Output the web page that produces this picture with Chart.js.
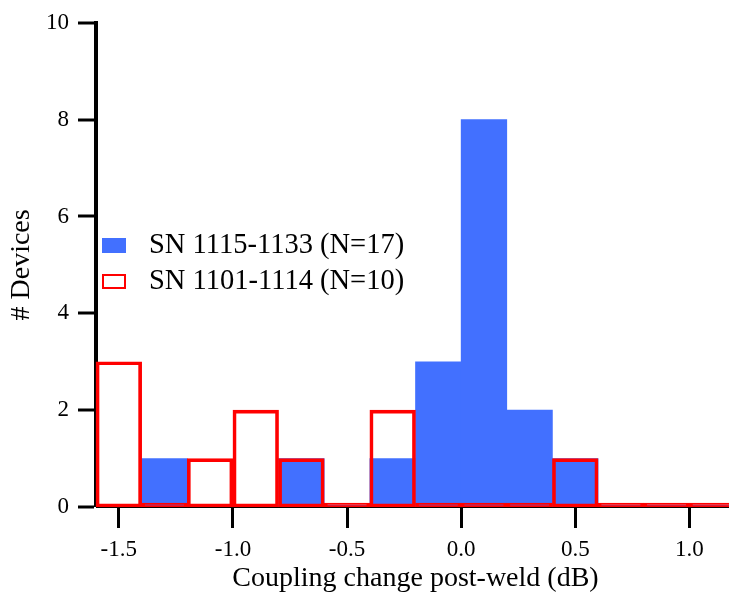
<!DOCTYPE html>
<html><head><meta charset="utf-8">
<script src="https://cdn.jsdelivr.net/npm/chart.js@4/dist/chart.umd.min.js"></script>
<style>html,body{margin:0;padding:0;overflow:hidden;background:#fff}canvas{display:block}</style>
</head><body>
<canvas id="c" width="735" height="596"></canvas>
<script>
const binStarts = [-1.6,-1.4,-1.2,-1.0,-0.8,-0.6,-0.4,-0.2,0.0,0.2,0.4,0.6,0.8,1.0];
const binWidth = 0.2;
const seriesNames = ['SN 1115-1133 (N=17)','SN 1101-1114 (N=10)'];
const countsNew = [0,1,0,0,1,0,1,3,8,2,1,0,0,0];
const countsOld = [3,0,1,2,1,0,2,0,0,0,1,0,0,0];
const xTicks = [-1.5,-1.0,-0.5,0.0,0.5,1.0];
const yTicks = [0,2,4,6,8,10];
const xTitle = 'Coupling change post-weld (dB)';
const yTitle = '# Devices';

const BLUE = '#4270ff';
const RED = '#ff0000';
const FONT = '"Liberation Serif", serif';

const toPoints = arr => arr.map((v,i)=>({x: +(binStarts[i]+binWidth/2).toFixed(2), y: v}));

const legendPlugin = {
  id:'customLegend',
  afterDraw(chart){
    const ctx = chart.ctx;
    ctx.save();
    ctx.font = '28.5px ' + FONT;
    ctx.textBaseline = 'middle';
    ctx.textAlign = 'left';
    ctx.fillStyle = BLUE;
    ctx.fillRect(102, 238, 24, 15);
    ctx.fillStyle = '#000';
    ctx.fillText(seriesNames[0], 149, 246);
    ctx.strokeStyle = RED;
    ctx.lineWidth = 2;
    ctx.strokeRect(103, 275, 22, 13);
    ctx.fillStyle = '#000';
    ctx.fillText(seriesNames[1], 149, 282);
    ctx.restore();
  }
};

new Chart(document.getElementById('c'), {
  type: 'bar',
  data: {
    datasets: [
      { label: seriesNames[1], data: toPoints(countsOld), backgroundColor: 'rgba(0,0,0,0)',
        borderColor: RED, borderWidth: 3, borderSkipped: false, minBarLength: 4, clip: 4 },
      { label: seriesNames[0], data: toPoints(countsNew), backgroundColor: BLUE,
        borderWidth: 0, minBarLength: 2 }
    ]
  },
  options: {
    responsive: false,
    animation: false,
    devicePixelRatio: 1,
    grouped: false,
    barPercentage: 1,
    categoryPercentage: 1,
    layout: { padding: { top: 19, right: 0, left: 0, bottom: 0 } },
    plugins: { legend: { display: false }, tooltip: { enabled: false } },
    scales: {
      x: {
        type: 'linear', min: -1.6, max: 1.2, offset: false,
        afterBuildTicks: s => { s.ticks = xTicks.map(v => ({value: v})); },
        afterFit: s => { s.height = 89; },
        ticks: { callback: v => v.toFixed(1), color: '#000', font: { family: FONT, size: 23 }, padding: 8, maxRotation: 0, autoSkip: false },
        grid: { offset: false, drawOnChartArea: false, drawTicks: true, tickLength: 21, tickWidth: 3, tickColor: '#000' },
        border: { display: true, color: '#000', width: 1 },
        title: { display: true, text: xTitle, color: '#000', font: { family: FONT, size: 28 }, padding: { top: 0, bottom: 1 } }
      },
      y: {
        type: 'linear', min: 0, max: 10,
        afterBuildTicks: s => { s.ticks = yTicks.map(v => ({value: v})); },
        afterFit: s => { s.width = 96; },
        ticks: { color: '#000', font: { family: FONT, size: 23 }, padding: 9 },
        grid: { lineWidth: 0, drawOnChartArea: false, drawTicks: true, tickLength: 18, tickWidth: 3, tickColor: '#000' },
        border: { display: true, color: '#000', width: 4 },
        title: { display: true, text: yTitle, color: '#000', font: { family: FONT, size: 28 }, padding: { top: 5, bottom: 0 } }
      }
    }
  },
  plugins: [legendPlugin]
});
</script>
</body></html>
